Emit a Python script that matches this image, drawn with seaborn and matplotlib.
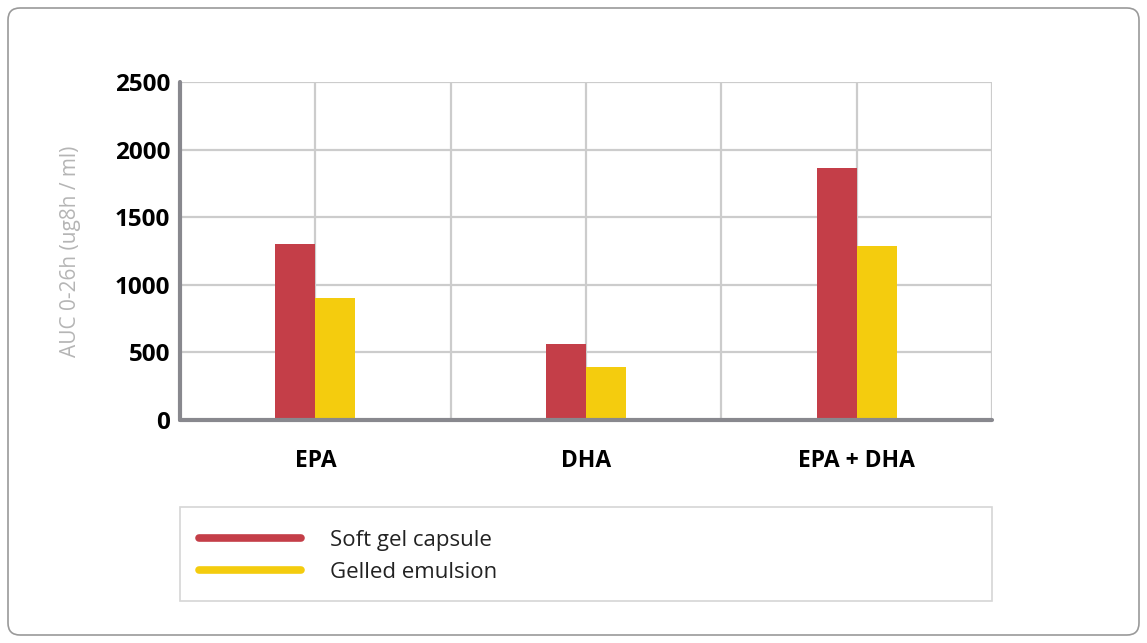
import pandas as pd
import numpy as np
import seaborn as sns
import matplotlib.pyplot as plt
from matplotlib.lines import Line2D
from matplotlib.patches import FancyBboxPatch, Rectangle

# Chart data
categories = ["EPA", "DHA", "EPA + DHA"]
soft_gel = [1300, 565, 1865]
gelled = [900, 395, 1290]
series_names = ["Soft gel capsule", "Gelled emulsion"]
y_ticks = [0, 500, 1000, 1500, 2000, 2500]

red = "#C43E48"
yellow = "#F4CC0E"

df = pd.DataFrame({
    "Fatty acid": categories * 2,
    "AUC": soft_gel + gelled,
    "Form": [series_names[0]] * 3 + [series_names[1]] * 3,
})

sns.set_style("white")
plt.rcParams['font.family'] = ['Open Sans', 'DejaVu Sans']

fig = plt.figure(figsize=(11.47, 6.43), dpi=100)
ax = fig.add_axes([180 / 1147, 1 - 420 / 643, 812 / 1147, 338 / 643])

sns.barplot(
    data=df,
    x="Fatty acid",
    y="AUC",
    hue="Form",
    palette=[red, yellow],
    width=0.296,
    saturation=1,
    linewidth=0,
    legend=False,
    ax=ax,
)

ax.set_xlim(-0.5, 2.5)
ax.set_ylim(0, 2500)
ax.set_yticks(y_ticks)
ax.set_yticklabels([str(v) for v in y_ticks], fontsize=17.5, fontweight="bold", color="black")
ax.set_xticks(range(len(categories)))
ax.set_xticklabels(categories, fontsize=16.5, fontweight="bold", color="black")
ax.tick_params(axis="y", length=0, pad=7)
ax.tick_params(axis="x", length=0, pad=21)

# grid: horizontal at each tick, vertical every half category
for v in y_ticks[1:]:
    ax.axhline(v, color="#cccccc", lw=1.6, zorder=0)
for xv in np.arange(-0.5, 2.51, 0.5):
    ax.axvline(xv, color="#cccccc", lw=1.6, zorder=0)

for s in ["top", "right"]:
    ax.spines[s].set_visible(False)
for s in ["left", "bottom"]:
    ax.spines[s].set_color("#88888e")
    ax.spines[s].set_linewidth(3)
    ax.spines[s].set_capstyle("round")

ax.set_xlabel("")
ax.set_ylabel("AUC 0-26h (ug8h / ml)", fontsize=15, color="#b5b5b5", labelpad=24)

# legend box
fig.add_artist(Rectangle((180, 643 - 601), 812, 94, transform=None,
                         facecolor="white", edgecolor="#d6d6d6", lw=1.2))
handles = [Line2D([], [], color=c, lw=5.5, solid_capstyle="round") for c in [red, yellow]]
fig.legend(handles, series_names, loc="upper left",
           bbox_to_anchor=(188 / 1147, 1 - 519 / 643),
           frameon=False, fontsize=16, handlelength=4.6, handletextpad=1.3,
           labelspacing=0.5, borderpad=0,
           labelcolor="#222222")

# outer rounded frame
fig.add_artist(FancyBboxPatch((8, 8), 1131, 627, transform=None,
                              boxstyle="round,pad=0,rounding_size=12",
                              facecolor="none", edgecolor="#9a9a9a", lw=1.2))

fig.savefig("out.png", dpi=100)
